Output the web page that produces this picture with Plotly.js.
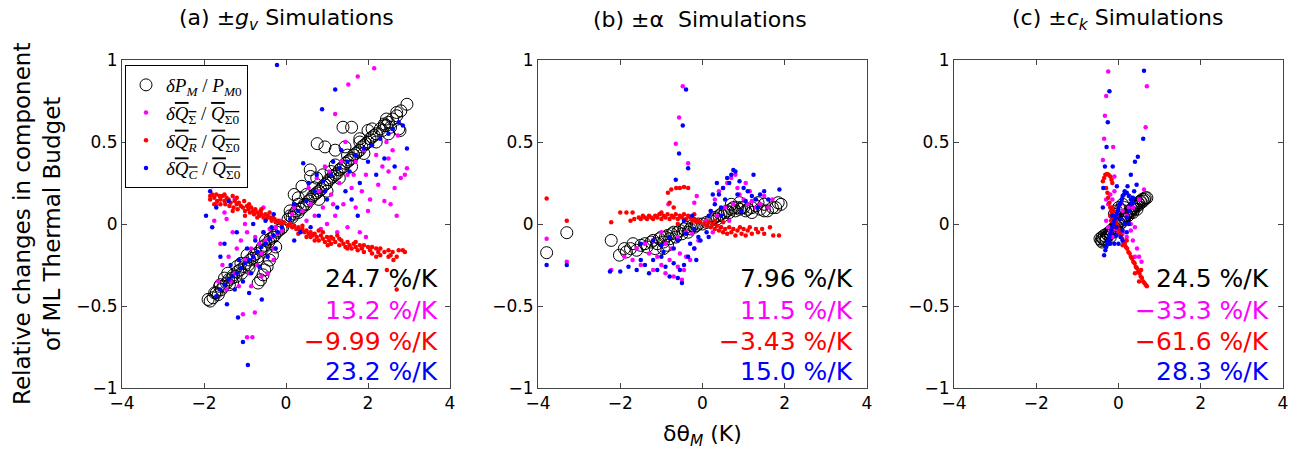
<!DOCTYPE html>
<html>
<head>
<meta charset="utf-8">
<script src="https://cdn.plot.ly/plotly-3.0.1.min.js"></script>
<style>html,body{margin:0;padding:0;background:#fff;}#chart{width:1299px;height:454px;}</style>
</head>
<body>
<div id="chart"></div>
<script>
// ---------------- Data ----------------
// Panel (a) +/- g_v simulations
const a_P_x = [-1.9,-1.85,-1.78,-1.74,-1.7,-1.65,-1.62,-1.58,-1.52,-1.45,-1.4,-1.38,-1.32,-1.28,-1.22,-1.18,-1.12,-1.08,-1.02,-0.98,-0.92,-0.88,-0.82,-0.78,-0.72,-0.68,-0.62,-0.58,-0.52,-0.48,-0.42,-0.38,-0.32,-0.28,-0.22,-0.18,-0.12,-0.08,-0.68,-0.62,-0.56,-0.52,-0.46,-0.40,-0.33,-0.25,0.05,0.1,0.15,0.2,0.25,0.3,0.35,0.4,0.45,0.5,0.55,0.6,0.65,0.7,0.75,0.8,0.85,0.9,0.95,1.0,1.05,1.1,1.15,1.2,1.25,1.3,1.35,1.4,1.45,1.5,1.55,1.6,1.65,1.7,1.75,1.8,1.85,1.9,1.95,2.0,2.05,2.1,2.15,2.2,2.3,2.35,2.4,2.45,2.5,2.55,2.6,2.7,2.75,2.8,2.95,2.78,1.39,1.6,0.95,0.76,1.44,2.0,1.8,2.7,2.4,0.59,0.6,0.39,0.2,1.2,0.75,0.3,0.1,
  0.5,0.8,1.0,1.3,1.6,1.9,2.2,2.5,0.7,1.1,1.5,1.8,2.1,2.45,0.3,0.9,1.2,-1.5,-1.3,-1.1,-0.9,-1.6,-0.7,-1.2,-0.5,-1.42,-0.95];
const a_P_y = [-0.46,-0.47,-0.45,-0.42,-0.42,-0.43,-0.38,-0.40,-0.38,-0.36,-0.34,-0.37,-0.33,-0.31,-0.32,-0.29,-0.28,-0.30,-0.26,-0.24,-0.25,-0.22,-0.21,-0.19,-0.18,-0.20,-0.16,-0.14,-0.13,-0.15,-0.11,-0.09,-0.08,-0.07,-0.05,-0.04,-0.03,-0.02,-0.36,-0.34,-0.31,-0.28,-0.26,-0.22,-0.19,-0.14,0.03,0.05,0.04,0.06,0.08,0.07,0.09,0.10,0.12,0.12,0.14,0.15,0.17,0.18,0.19,0.20,0.21,0.23,0.24,0.25,0.27,0.28,0.29,0.30,0.31,0.33,0.34,0.35,0.37,0.38,0.39,0.40,0.42,0.43,0.44,0.45,0.47,0.48,0.49,0.50,0.52,0.53,0.54,0.55,0.58,0.57,0.60,0.60,0.62,0.59,0.64,0.66,0.58,0.69,0.73,0.57,0.59,0.59,0.47,0.49,0.47,0.57,0.52,0.68,0.61,0.33,0.29,0.23,0.18,0.45,0.28,0.16,0.08,
  0.18,0.15,0.20,0.28,0.35,0.43,0.50,0.55,0.22,0.32,0.42,0.50,0.58,0.64,0.12,0.30,0.36,-0.33,-0.36,-0.24,-0.27,-0.37,-0.22,-0.26,-0.10,-0.30,-0.19];
const a_S_x = [2.15,1.75,1.52,1.2,2.73,2.6,2.9,2.35,2.2,1.9,1.7,1.95,2.5,2.8,1.5,1.3,1.6,1.85,2.05,2.4,2.65,1.1,1.4,1.7,2.0,1.2,0.9,0.7,1.0,1.5,1.8,0.5,0.3,0.8,1.05,0.6,0.4,1.35,0.95,2.25,2.55,1.25,0.15,0.2,0.6,2.7,1.65,0.75,1.45,2.45,0.55,1.15,0.85,1.95,2.5,2.95,
  -1.8,-1.75,-1.5,-1.45,-1.6,-1.4,-1.55,-1.3,-1.2,-1.1,-1.25,-1.0,-0.95,-0.9,-0.85,-0.8,-0.75,-0.7,-0.65,-0.6,-0.55,-0.5,-0.45,-0.4,-0.35,-0.3,-0.25,-0.2,-0.15,-0.1,-1.05,-0.76,-0.95,-0.82,-1.35,-1.15,-0.65,-0.55,-1.65,-1.0,-0.45,-0.3,-1.45,-0.85,-0.6,-1.7,-1.25];
const a_S_y = [0.95,0.90,0.85,0.67,0.54,0.45,0.30,0.35,0.42,0.45,0.38,0.30,0.32,0.28,0.30,0.25,0.22,0.20,0.15,0.14,0.22,0.18,0.12,0.10,0.08,0.05,0.10,0.05,0.00,-0.02,-0.05,0.02,-0.03,0.20,0.32,0.12,0.08,0.38,0.35,0.24,0.12,-0.05,0.06,0.10,-0.06,0.05,0.30,0.28,0.50,0.50,0.22,0.12,-0.03,-0.08,0.40,0.34,
  0.23,0.02,0.07,0.03,-0.12,-0.20,-0.25,-0.05,-0.15,-0.10,-0.30,-0.22,-0.05,-0.30,-0.15,-0.20,-0.08,-0.25,-0.12,-0.18,-0.05,-0.10,-0.20,-0.03,-0.08,-0.15,-0.02,-0.06,0.02,-0.04,-0.55,-0.54,-0.69,-0.69,-0.35,-0.38,0.05,0.10,-0.35,0.00,-0.30,-0.22,-0.40,-0.38,-0.32,0.12,0.15];
const a_R_x = [-1.85,-1.85,-1.8,-1.75,-1.7,-1.68,-1.62,-1.6,-1.55,-1.5,-1.48,-1.45,-1.4,-1.38,-1.35,-1.3,-1.28,-1.25,-1.2,-1.18,-1.15,-1.1,-1.05,-1.02,-1.0,-0.95,-0.92,-0.88,-0.85,-0.8,-0.78,-0.75,-0.7,-0.65,-0.62,-0.6,-0.55,-0.5,-0.48,-0.45,-0.4,-0.35,-0.32,-0.28,-0.25,-0.2,-0.15,-0.1,-0.05,
  0.05,0.1,0.15,0.2,0.25,0.3,0.35,0.4,0.45,0.5,0.55,0.6,0.65,0.7,0.75,0.8,0.85,0.9,0.95,1.0,1.05,1.1,1.15,1.2,1.3,1.35,1.4,1.45,1.5,1.55,1.6,1.65,1.7,1.75,1.8,1.85,1.9,2.0,2.05,2.1,2.2,2.25,2.3,2.4,2.5,2.55,2.6,2.7,2.75,2.85,2.9,2.46,2.7,1.25,0.6,2.2,
  0.3,0.5,0.7,0.9,1.1,1.3,1.5,1.7,1.9,2.1,2.3,2.5,0.4,0.8,-1.5,-1.2,-0.9,-0.6,-1.6,-1.3,-1.0,-0.7,-0.4,-1.75,2.62,1.02];
const a_R_y = [0.17,0.15,0.18,0.16,0.18,0.14,0.17,0.15,0.17,0.14,0.12,0.16,0.15,0.11,0.13,0.17,0.10,0.14,0.12,0.09,0.13,0.11,0.10,0.14,0.08,0.11,0.09,0.07,0.10,0.08,0.06,0.09,0.07,0.05,0.08,0.06,0.04,0.06,0.03,0.05,0.04,0.02,0.04,0.03,0.01,0.02,0.01,0.00,0.01,
  -0.01,0.00,-0.02,-0.01,-0.03,-0.02,-0.04,-0.03,-0.05,-0.04,-0.06,-0.05,-0.07,-0.06,-0.08,-0.10,-0.07,-0.09,-0.11,-0.08,-0.10,-0.12,-0.09,-0.11,-0.13,-0.10,-0.12,-0.14,-0.11,-0.13,-0.15,-0.12,-0.14,-0.16,-0.13,-0.15,-0.17,-0.14,-0.16,-0.18,-0.15,-0.17,-0.19,-0.17,-0.16,-0.19,-0.17,-0.20,-0.16,-0.16,-0.17,-0.28,-0.40,-0.07,-0.08,-0.20,
  -0.06,-0.08,-0.10,-0.05,-0.08,-0.09,-0.15,-0.11,-0.13,-0.14,-0.15,-0.20,-0.01,-0.04,0.18,0.16,0.12,0.09,0.12,0.08,0.05,0.04,0.07,0.12,-0.22,-0.13];
const a_C_x = [-0.22,1.2,0.88,0.42,2.95,2.85,2.6,2.5,2.3,2.1,1.9,1.7,1.5,1.3,1.1,0.9,0.7,0.5,0.3,0.1,2.4,2.65,2.2,1.8,1.6,1.45,1.25,1.0,0.8,0.6,0.35,1.55,1.35,1.15,0.95,0.75,2.0,2.75,0.2,0.55,1.75,0.2,
  -1.95,-1.8,-1.5,-1.7,-1.4,-1.2,-1.44,-1.17,-1.05,-0.93,-0.59,-1.7,-1.6,-1.5,-1.4,-1.3,-1.2,-1.1,-1.0,-0.9,-0.8,-0.7,-0.6,-0.5,-0.4,-0.3,-0.2,-0.1,-1.35,-1.15,-0.95,-0.75,-0.55,-0.35,-1.25,-1.05,-0.85,-0.65,-0.45,-0.25,-0.8,-0.5,-1.6,-0.9,-0.3,-1.85];
const a_C_y = [0.97,0.82,0.70,0.37,0.46,0.60,0.58,0.55,0.52,0.48,0.46,0.42,0.38,0.34,0.30,0.26,0.20,0.14,0.08,0.03,0.40,0.35,0.30,0.25,0.15,0.20,0.10,0.15,0.05,-0.02,-0.05,0.32,0.45,0.38,0.20,0.30,0.38,0.62,0.12,0.25,0.05,-0.10,
  0.05,-0.02,-0.12,0.10,0.14,-0.05,-0.49,-0.57,-0.72,-0.86,-0.46,-0.44,-0.40,-0.37,-0.34,-0.32,-0.30,-0.27,-0.24,-0.22,-0.20,-0.17,-0.14,-0.12,-0.09,-0.07,-0.05,-0.02,-0.25,-0.22,-0.15,-0.10,-0.05,-0.02,-0.40,-0.35,-0.30,-0.26,-0.20,-0.15,0.00,0.02,-0.20,-0.42,0.06,0.20];

// Panel (b) +/- alpha simulations
const b_P_x = [-3.79,-3.3,-2.22,-2.02,-1.85,-1.69,-1.6,-1.5,-1.4,-1.35,-1.25,-1.2,-1.1,-1.05,-1.0,-0.95,-0.9,-0.85,-0.8,-0.75,-0.7,-0.65,-0.6,-0.55,-0.5,-0.45,-0.4,-0.35,-0.3,-0.25,-0.2,-0.15,-0.1,0.0,0.1,0.2,0.25,0.3,0.35,0.4,0.45,0.5,0.55,0.6,0.65,0.7,0.75,0.8,0.85,0.9,0.95,1.0,1.05,1.1,1.2,1.3,1.4,1.5,1.58,1.7,1.78,1.84,1.91,1.35,1.5,1.2,-1.9,-1.75,-0.85,-0.95,-1.15,0.7,0.9];
const b_P_y = [-0.175,-0.053,-0.10,-0.19,-0.17,-0.12,-0.16,-0.13,-0.12,-0.14,-0.11,-0.10,-0.12,-0.09,-0.08,-0.11,-0.08,-0.07,-0.09,-0.06,-0.05,-0.08,-0.05,-0.04,-0.06,-0.03,-0.02,-0.05,-0.03,-0.01,-0.02,-0.01,0.00,0.00,0.01,0.02,0.03,0.04,0.03,0.05,0.06,0.05,0.07,0.08,0.07,0.09,0.10,0.08,0.10,0.09,0.10,0.10,0.08,0.09,0.10,0.11,0.09,0.08,0.08,0.10,0.10,0.13,0.12,0.13,0.12,0.07,-0.15,-0.15,-0.13,-0.15,-0.15,0.12,0.13];
const b_S_x = [-3.79,-3.3,-2.22,-0.48,-0.57,-0.65,-0.35,0.3,0.4,0.5,0.6,0.7,0.8,0.9,1.0,1.1,1.2,1.3,1.4,1.5,1.6,0.2,0.35,0.55,0.75,0.95,1.15,0.65,0.45,0.25,0.1,1.7,0.85,1.05,
  -1.9,-1.7,-1.5,-1.3,-1.2,-1.1,-1.0,-0.9,-0.8,-0.7,-0.6,-0.5,-0.45,-0.4,-0.3,-0.2,-0.1,-1.4,-1.2,-0.9,-0.6,-0.4,-1.6,-0.75,-0.55,-0.25,-0.14,-0.2,-0.83,-1.0];
const b_S_y = [-0.09,-0.23,-0.28,0.84,0.65,0.49,0.37,0.15,0.20,0.22,0.25,0.28,0.30,0.18,0.15,0.12,0.14,0.10,0.12,0.17,0.10,0.08,0.05,0.10,0.12,0.08,0.20,0.02,-0.02,-0.05,0.02,0.15,0.22,0.25,
  -0.20,-0.22,-0.25,-0.18,-0.28,-0.20,-0.25,-0.30,-0.22,-0.32,-0.26,-0.34,-0.28,-0.20,-0.22,-0.15,-0.10,-0.12,-0.10,-0.12,-0.08,-0.05,-0.15,-0.15,-0.18,-0.06,0.17,0.13,0.12,-0.05];
const b_R_x = [-3.79,-3.3,-2.22,-2.0,-1.85,-1.7,-1.66,-1.75,-1.55,-1.5,-1.45,-1.4,-1.35,-1.3,-1.25,-1.2,-1.15,-1.1,-1.05,-1.0,-0.95,-0.9,-0.85,-0.8,-0.75,-0.7,-0.65,-0.6,-0.55,-0.5,-0.45,-0.4,-0.35,-0.3,-0.25,-0.2,-0.15,-0.1,-0.05,-0.84,-0.76,-0.64,-0.55,-0.45,-0.35,-0.8,-0.7,
  0.05,0.1,0.15,0.2,0.25,0.3,0.35,0.4,0.45,0.5,0.55,0.6,0.65,0.7,0.75,0.8,0.85,0.91,0.95,1.0,1.05,1.1,1.15,1.2,1.3,1.35,1.45,1.5,1.64,1.72,1.86,0.3,0.5,-0.6,-1.0,-0.2];
const b_R_y = [0.155,0.02,0.01,0.07,0.07,0.07,0.03,0.02,0.04,0.03,0.05,0.04,0.03,0.05,0.04,0.03,0.05,0.04,0.06,0.03,0.05,0.04,0.06,0.03,0.05,0.04,0.06,0.03,0.05,0.04,0.06,0.03,0.05,0.04,0.02,0.03,0.01,0.02,0.01,0.19,0.21,0.22,0.22,0.225,0.22,0.13,0.10,
  0.00,-0.01,0.01,-0.02,0.00,-0.03,-0.01,-0.04,-0.02,-0.05,-0.03,-0.06,-0.02,-0.05,-0.03,-0.07,-0.04,-0.02,-0.06,-0.03,-0.07,-0.04,-0.02,-0.06,-0.03,-0.05,-0.03,-0.06,-0.02,-0.07,-0.07,0.02,0.01,0.00,0.07,0.06];
const b_C_x = [-3.79,-3.3,-2.25,-0.4,-0.48,-0.57,-0.35,-0.65,-0.5,0.75,1.24,1.87,0.6,0.7,0.8,0.65,0.5,0.4,0.3,0.2,0.9,1.0,1.1,1.2,1.3,1.4,1.5,1.6,0.55,0.45,0.85,1.05,0.35,0.25,0.15,0.95,0.1,0.15,0.45,1.35,
  -2.0,-1.8,-1.6,-1.5,-1.4,-1.3,-1.2,-1.1,-1.0,-0.9,-0.8,-0.7,-0.6,-0.55,-0.45,-0.35,-0.3,-0.2,-0.1,-1.5,-1.2,-1.0,-0.8,-0.6,-0.4,-0.2,-0.7,-0.95,-0.25,-0.15,-0.05,-0.45];
const b_C_y = [-0.25,-0.25,-0.29,0.82,0.60,0.43,0.34,0.27,-0.36,0.33,0.30,0.21,0.28,0.30,0.32,0.25,0.22,0.18,0.12,0.08,0.26,0.22,0.20,0.17,0.15,0.18,0.20,0.15,0.15,0.10,0.18,0.14,0.25,0.18,0.05,0.08,-0.05,-0.08,0.05,0.10,
  -0.29,-0.26,-0.28,-0.22,-0.25,-0.30,-0.22,-0.28,-0.20,-0.26,-0.32,-0.24,-0.33,-0.28,-0.25,-0.20,-0.12,-0.15,-0.08,-0.12,-0.10,-0.13,-0.08,-0.10,-0.06,-0.03,-0.15,-0.17,0.05,-0.22,-0.10,0.02];

// Panel (c) +/- c_k simulations
const c_P_x = [-0.45,-0.42,-0.4,-0.38,-0.35,-0.33,-0.3,-0.28,-0.25,-0.22,-0.2,-0.18,-0.15,-0.12,-0.1,-0.08,-0.05,-0.02,0.0,0.03,0.05,0.08,0.1,0.13,0.15,0.18,0.2,0.23,0.25,0.28,0.3,0.33,0.35,0.38,0.4,0.43,0.45,0.48,0.5,0.53,0.55,0.58,0.6,0.63,0.65,0.69,-0.05,0.0,0.05,-0.1,0.1,0.15,0.2,-0.4,-0.3,-0.2,0.35,0.45];
const c_P_y = [-0.09,-0.10,-0.08,-0.09,-0.07,-0.10,-0.08,-0.06,-0.07,-0.05,-0.06,-0.04,-0.05,-0.03,-0.02,-0.03,-0.01,0.00,0.01,0.00,0.02,0.01,0.03,0.04,0.03,0.05,0.06,0.05,0.07,0.08,0.07,0.09,0.10,0.09,0.11,0.12,0.11,0.13,0.12,0.14,0.13,0.15,0.14,0.15,0.16,0.16,0.08,0.10,0.09,0.06,0.12,0.10,0.15,-0.11,-0.10,-0.08,0.07,0.09];
const c_S_x = [-0.25,-0.3,-0.33,-0.35,-0.38,-0.13,-0.1,0.69,0.66,0.62,0.56,-0.3,-0.25,-0.2,-0.15,-0.2,-0.15,-0.1,0.0,0.1,0.2,0.3,0.35,0.4,0.45,0.5,0.2,0.25,0.1,-0.05,-0.3,-0.25,0.3,0.15,0.4,0.5,0.35,-0.1,0.05];
const c_S_y = [0.93,0.78,0.66,0.52,0.39,0.47,0.29,0.84,0.59,0.21,-0.23,0.15,0.12,0.18,0.15,-0.05,-0.08,-0.03,-0.05,-0.06,-0.08,-0.04,-0.10,-0.02,-0.15,-0.20,0.05,0.10,0.08,0.05,0.02,-0.02,0.00,-0.12,-0.20,0.15,0.10,0.20,0.12];
const c_R_x = [-0.38,-0.35,-0.32,-0.28,-0.24,-0.2,-0.17,-0.15,-0.3,-0.27,-0.25,-0.22,-0.2,-0.18,-0.16,-0.14,-0.12,-0.1,-0.08,-0.15,-0.12,-0.1,-0.08,-0.06,-0.04,-0.2,-0.18,0.0,0.03,0.06,0.09,0.12,0.15,0.18,0.21,0.24,0.27,0.3,0.33,0.36,0.39,0.42,0.45,0.48,0.51,0.54,0.57,0.6,0.63,0.66,0.69,0.4,0.5,0.55,0.2,0.1];
const c_R_y = [0.26,0.28,0.30,0.305,0.30,0.29,0.27,0.25,0.22,0.19,0.16,0.13,0.10,0.08,0.06,0.04,0.02,0.00,-0.02,0.10,0.08,0.05,0.03,0.01,-0.01,0.05,0.02,-0.03,-0.05,-0.07,-0.09,-0.11,-0.12,-0.14,-0.15,-0.17,-0.18,-0.20,-0.21,-0.23,-0.24,-0.26,-0.27,-0.29,-0.30,-0.32,-0.33,-0.35,-0.36,-0.37,-0.38,-0.30,-0.35,-0.28,-0.10,-0.13];
const c_C_x = [0.62,-0.22,-0.26,-0.29,-0.14,-0.33,-0.04,0.22,0.44,0.3,0.47,0.4,0.6,-0.37,-0.38,-0.35,-0.32,-0.3,-0.27,-0.25,-0.22,-0.2,-0.17,-0.15,-0.12,-0.1,-0.07,-0.05,-0.02,0.0,0.03,0.05,0.08,0.1,0.13,0.15,0.2,0.25,0.3,0.35,0.0,0.05,0.1,0.15,0.2,0.25,0.3,0.35,0.38,-0.1,-0.05,-0.2,0.1,0.2,-0.15,0.05,-0.05,0.25];
const c_C_y = [0.935,0.81,0.62,0.47,0.35,0.35,0.23,0.23,0.24,0.30,0.41,0.38,0.52,0.22,0.10,-0.19,-0.16,-0.14,-0.12,-0.10,-0.08,-0.06,-0.04,-0.02,0.00,0.02,0.04,0.06,0.08,0.10,0.12,0.13,0.15,0.17,0.18,0.20,0.19,0.17,0.15,0.13,-0.12,-0.08,-0.04,0.00,0.04,0.08,0.12,0.16,0.20,-0.12,-0.07,-0.12,-0.10,-0.05,0.05,0.03,-0.02,0.00];

const panelTitles = ["(a) ±<i>g</i><sub><i>v</i></sub> Simulations", "(b) ±α\u00a0 Simulations", "(c) ±<i>c</i><sub><i>k</i></sub> Simulations"];
const slopeLabels = [
  ["24.7 %/K", "13.2 %/K", "−9.99 %/K", "23.2 %/K"],
  ["7.96 %/K", "11.5 %/K", "−3.43 %/K", "15.0 %/K"],
  ["24.5 %/K", "−33.3 %/K", "−61.6 %/K", "28.3 %/K"]
];
const legendNames = [
  "<i>δP</i><sub><i>M</i></sub> / <i>P</i><sub><i>M</i>0</sub>",
  "<i>δ</i><span style='text-decoration:overline'><i>Q</i><sub>Σ</sub></span> / <span style='text-decoration:overline'><i>Q</i><sub>Σ0</sub></span>",
  "<i>δ</i><span style='text-decoration:overline'><i>Q</i><sub><i>R</i></sub></span> / <span style='text-decoration:overline'><i>Q</i><sub>Σ0</sub></span>",
  "<i>δ</i><span style='text-decoration:overline'><i>Q</i><sub><i>C</i></sub></span> / <span style='text-decoration:overline'><i>Q</i><sub>Σ0</sub></span>"
];
const xTicks = [-4, -2, 0, 2, 4];
const yTicks = [-1, -0.5, 0, 0.5, 1];
const yTickText = ["−1", "−0.5", "0", "0.5", "1"];

// ---------------- Build ----------------
const colors = ["#000000", "#ff00ff", "#ff0000", "#0000ff"];
const panels = [
  {P:[a_P_x,a_P_y], S:[a_S_x,a_S_y], R:[a_R_x,a_R_y], C:[a_C_x,a_C_y]},
  {P:[b_P_x,b_P_y], S:[b_S_x,b_S_y], R:[b_R_x,b_R_y], C:[b_C_x,b_C_y]},
  {P:[c_P_x,c_P_y], S:[c_S_x,c_S_y], R:[c_R_x,c_R_y], C:[c_C_x,c_C_y]}
];
const keys = ["P", "S", "R", "C"];
const traces = [];
panels.forEach((p, i) => {
  const xa = i === 0 ? "x" : "x" + (i + 1);
  const ya = i === 0 ? "y" : "y" + (i + 1);
  keys.forEach((k, j) => {
    const isP = k === "P";
    traces.push({
      type: "scatter", mode: "markers",
      x: p[k][0], y: p[k][1], xaxis: xa, yaxis: ya,
      name: legendNames[j], legendgroup: k, showlegend: i === 0,
      marker: isP ? {symbol: "circle-open", size: 12, color: "#000", line: {width: 1, color: "#000"}}
                  : {symbol: "circle", size: 4.5, color: colors[j], line: {width: 0}},
      hoverinfo: "skip"
    });
  });
});

const W = 1299;
const domains = [[122 / W, 450 / W], [538 / W, 867 / W], [954 / W, 1283 / W]];
const axisFont = {family: "DejaVu Sans, Liberation Sans, Arial", size: 17, color: "#000"};
function xAxis(d, anchor) {
  return {domain: d, anchor: anchor, range: [-4, 4], tickvals: xTicks, ticktext: xTicks.map(v => v < 0 ? "−" + Math.abs(v) : String(v)),
    ticks: "inside", ticklen: 5, tickcolor: "#444", showline: true, linecolor: "#444", linewidth: 1, mirror: "allticks",
    showgrid: false, zeroline: false, tickfont: axisFont, automargin: false};
}
function yAxis(anchor) {
  return {domain: [0, 1], anchor: anchor, range: [-1, 1], tickvals: yTicks, ticktext: yTickText,
    ticks: "inside", ticklen: 5, tickcolor: "#444", showline: true, linecolor: "#444", linewidth: 1, mirror: "allticks",
    showgrid: false, zeroline: false, tickfont: axisFont, automargin: false};
}

const H0 = 60, H1 = 388; // plot top/bottom pixel rows
const py = v => (H1 - v) / (H1 - H0);
const annotations = [];
const titleX = [286, 700, 1117];
panelTitles.forEach((t, i) => annotations.push({xref: "paper", yref: "paper", x: titleX[i] / W, y: py(20), text: t, showarrow: false,
  xanchor: "center", yanchor: "middle", font: {family: "DejaVu Sans, Liberation Sans", size: 22, color: "#000"}}));
const rightEdge = [440, 855, 1271];
const rowY = [278, 310, 341, 371];
slopeLabels.forEach((lab, i) => lab.forEach((t, j) => annotations.push({xref: "paper", yref: "paper", x: rightEdge[i] / W, y: py(rowY[j]),
  text: t, showarrow: false, xanchor: "right", yanchor: "middle", font: {family: "DejaVu Sans, Liberation Sans", size: 25, color: colors[j]}})));
annotations.push({xref: "paper", yref: "paper", x: 37 / W, y: py(224), text: "Relative changes in component<br>of ML Thermal Budget",
  showarrow: false, textangle: -90, xanchor: "center", yanchor: "middle", font: {family: "DejaVu Sans, Liberation Sans", size: 23, color: "#000"}});
annotations.push({xref: "paper", yref: "paper", x: 702 / W, y: py(436), text: "δθ<sub><i>M</i></sub> (K)",
  showarrow: false, xanchor: "center", yanchor: "middle", font: {family: "DejaVu Sans, Liberation Sans", size: 22, color: "#000"}});

const layout = {
  width: 1299, height: 454,
  margin: {l: 0, r: 0, t: H0, b: 454 - H1, pad: 0},
  paper_bgcolor: "#fff", plot_bgcolor: "#fff",
  xaxis: xAxis(domains[0], "y"), yaxis: yAxis("x"),
  xaxis2: xAxis(domains[1], "y2"), yaxis2: yAxis("x2"),
  xaxis3: xAxis(domains[2], "y3"), yaxis3: yAxis("x3"),
  showlegend: true,
  legend: {x: 125 / W, y: py(65), xanchor: "left", yanchor: "top", bgcolor: "#fff", bordercolor: "#000", borderwidth: 1,
    font: {family: "Liberation Serif, DejaVu Serif, serif", size: 19, color: "#000"}, tracegroupgap: 0, itemsizing: "trace"},
  annotations: annotations
};
Plotly.newPlot("chart", traces, layout, {displayModeBar: false, staticPlot: true});
</script>
</body>
</html>
